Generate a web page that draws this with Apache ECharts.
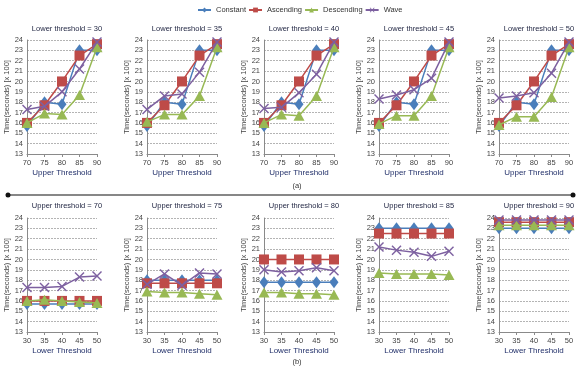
<!DOCTYPE html>
<html><head><meta charset="utf-8">
<script src="https://cdn.jsdelivr.net/npm/echarts@6/dist/echarts.min.js"></script>
<style>html,body{margin:0;padding:0;background:#fff}#c{width:580px;height:369px}</style>
</head><body><div id="c"></div>
<script>
// Categories
const upperThresholds = ['70','75','80','85','90'];
const lowerThresholds = ['30','35','40','45','50'];
const seriesNames = ['Constant','Ascending','Descending','Wave'];
// Values (x100 seconds): rows = upper threshold 70..90, columns = lower threshold 30..50
const constant = [
  [15.7,15.7,15.7,15.7,15.7],
  [18.0,18.0,18.0,18.0,18.0],
  [17.8,17.8,17.8,17.8,17.8],
  [23.0,23.0,23.0,23.0,23.0],
  [23.0,23.0,23.0,23.0,23.0]
];
const ascending = [
  [16.0,16.0,16.0,16.0,16.0],
  [17.7,17.7,17.7,17.7,17.7],
  [20.0,20.0,20.0,20.0,20.0],
  [22.5,22.5,22.5,22.5,22.5],
  [23.6,23.6,23.6,23.6,23.6]
];
const descending = [
  [16.0,16.1,16.0,15.9,15.8],
  [16.9,16.8,16.8,16.7,16.6],
  [16.8,16.8,16.7,16.7,16.6],
  [18.7,18.6,18.6,18.6,18.5],
  [23.3,23.3,23.3,23.3,23.3]
];
const wave = [
  [17.3,17.3,17.4,18.3,18.4],
  [17.6,18.6,17.5,18.7,18.6],
  [19.0,18.8,18.9,19.2,18.9],
  [21.2,20.9,20.7,20.3,20.8],
  [23.8,23.8,23.8,23.8,23.8]
];
const yTicks = {min:13, max:24, interval:1};

const matrices = [constant, ascending, descending, wave];
const colors = ['#4a7ebb','#be4b48','#98b954','#7d60a0'];
const xSym = 'path://M0,1 L1,0 L5,4 L9,0 L10,1 L6,5 L10,9 L9,10 L5,6 L1,10 L0,9 L4,5 Z';
const symbols = ['diamond','rect','triangle',xSym];
const symSizes = [[9,12],10,[11,10],10];

const lefts = [27,147,264,379,499];
const W = 70, H = 114;
const tops = [40,218];
const FONT = 'Liberation Sans, Arial, sans-serif';
const FS = 7.5;

const grids=[], xAxes=[], yAxes=[], series=[], titles=[];
let k = 0;
for (let row = 0; row < 2; row++) {
  for (let p = 0; p < 5; p++) {
    grids.push({left: lefts[p], top: tops[row], width: W, height: H});
    const cats = row === 0 ? upperThresholds : lowerThresholds;
    xAxes.push({
      type:'category', gridIndex:k, data: cats, boundaryGap:false,
      name: row === 0 ? 'Upper Threshold' : 'Lower Threshold',
      nameLocation:'middle', nameGap:15,
      nameTextStyle:{fontSize:8, color:'#22306a', fontFamily:FONT},
      axisLine:{lineStyle:{color:'#8a8a8a', width:1}},
      axisTick:{show:true, length:3, alignWithLabel:true, lineStyle:{color:'#8a8a8a'}},
      axisLabel:{fontSize:FS, color:'#444', margin:5, fontFamily:FONT},
      splitLine:{show:false}
    });
    yAxes.push({
      type:'value', gridIndex:k, min:yTicks.min, max:yTicks.max, interval:yTicks.interval,
      name:'Time(seconds) [x 100]', nameLocation:'middle', nameGap:13,
      nameTextStyle:{fontSize:FS, color:'#444', fontFamily:FONT},
      axisLine:{show:true, lineStyle:{color:'#8a8a8a', width:1}},
      axisTick:{show:false},
      axisLabel:{fontSize:FS, color:'#444', margin:4, fontFamily:FONT},
      splitLine:{show:true, lineStyle:{color:'#b4b4b4', type:[2,1], width:1}}
    });
    titles.push({
      text: row === 0 ? ('Lower threshold = ' + lowerThresholds[p]) : ('Upper threshold = ' + upperThresholds[p]),
      left: lefts[p] + W/2, textAlign:'center', top: row === 0 ? 20 : 197,
      textStyle:{fontSize:FS, fontWeight:'normal', color:'#1e2340', fontFamily:FONT}
    });
    for (let s = 0; s < 4; s++) {
      const m = matrices[s];
      const data = row === 0 ? m.map(r => r[p]) : m[p].slice();
      series.push({
        name: seriesNames[s], type:'line', xAxisIndex:k, yAxisIndex:k, data,
        symbol: symbols[s], symbolSize: symSizes[s], showAllSymbol:true,
        lineStyle:{color:colors[s], width:1.5},
        itemStyle:{color:colors[s], borderWidth:0},
        animation:false, z: 2 + s
      });
    }
    k++;
  }
}

const chart = echarts.init(document.getElementById('c'));
chart.setOption({
  backgroundColor:'#fff',
  animation:false,
  title: titles,
  legend:{
    data: seriesNames, top:1, left:192, itemWidth:13, itemHeight:6, itemGap:2,
    textStyle:{fontSize:FS, color:'#333', fontFamily:FONT}
  },
  grid: grids, xAxis: xAxes, yAxis: yAxes, series,
  graphic:[
    {type:'text', x:297, y:186, style:{text:'(a)', fontSize:7.5, fill:'#333', fontFamily:FONT, textAlign:'center', textVerticalAlign:'middle'}},
    {type:'text', x:297, y:362, style:{text:'(b)', fontSize:7.5, fill:'#333', fontFamily:FONT, textAlign:'center', textVerticalAlign:'middle'}},
    {type:'line', shape:{x1:8, y1:195, x2:573, y2:195}, style:{stroke:'#111', lineWidth:1.2}},
    {type:'circle', shape:{cx:8, cy:195, r:2.5}, style:{fill:'#111'}},
    {type:'circle', shape:{cx:573, cy:195, r:2.5}, style:{fill:'#111'}}
  ]
});
</script></body></html>
